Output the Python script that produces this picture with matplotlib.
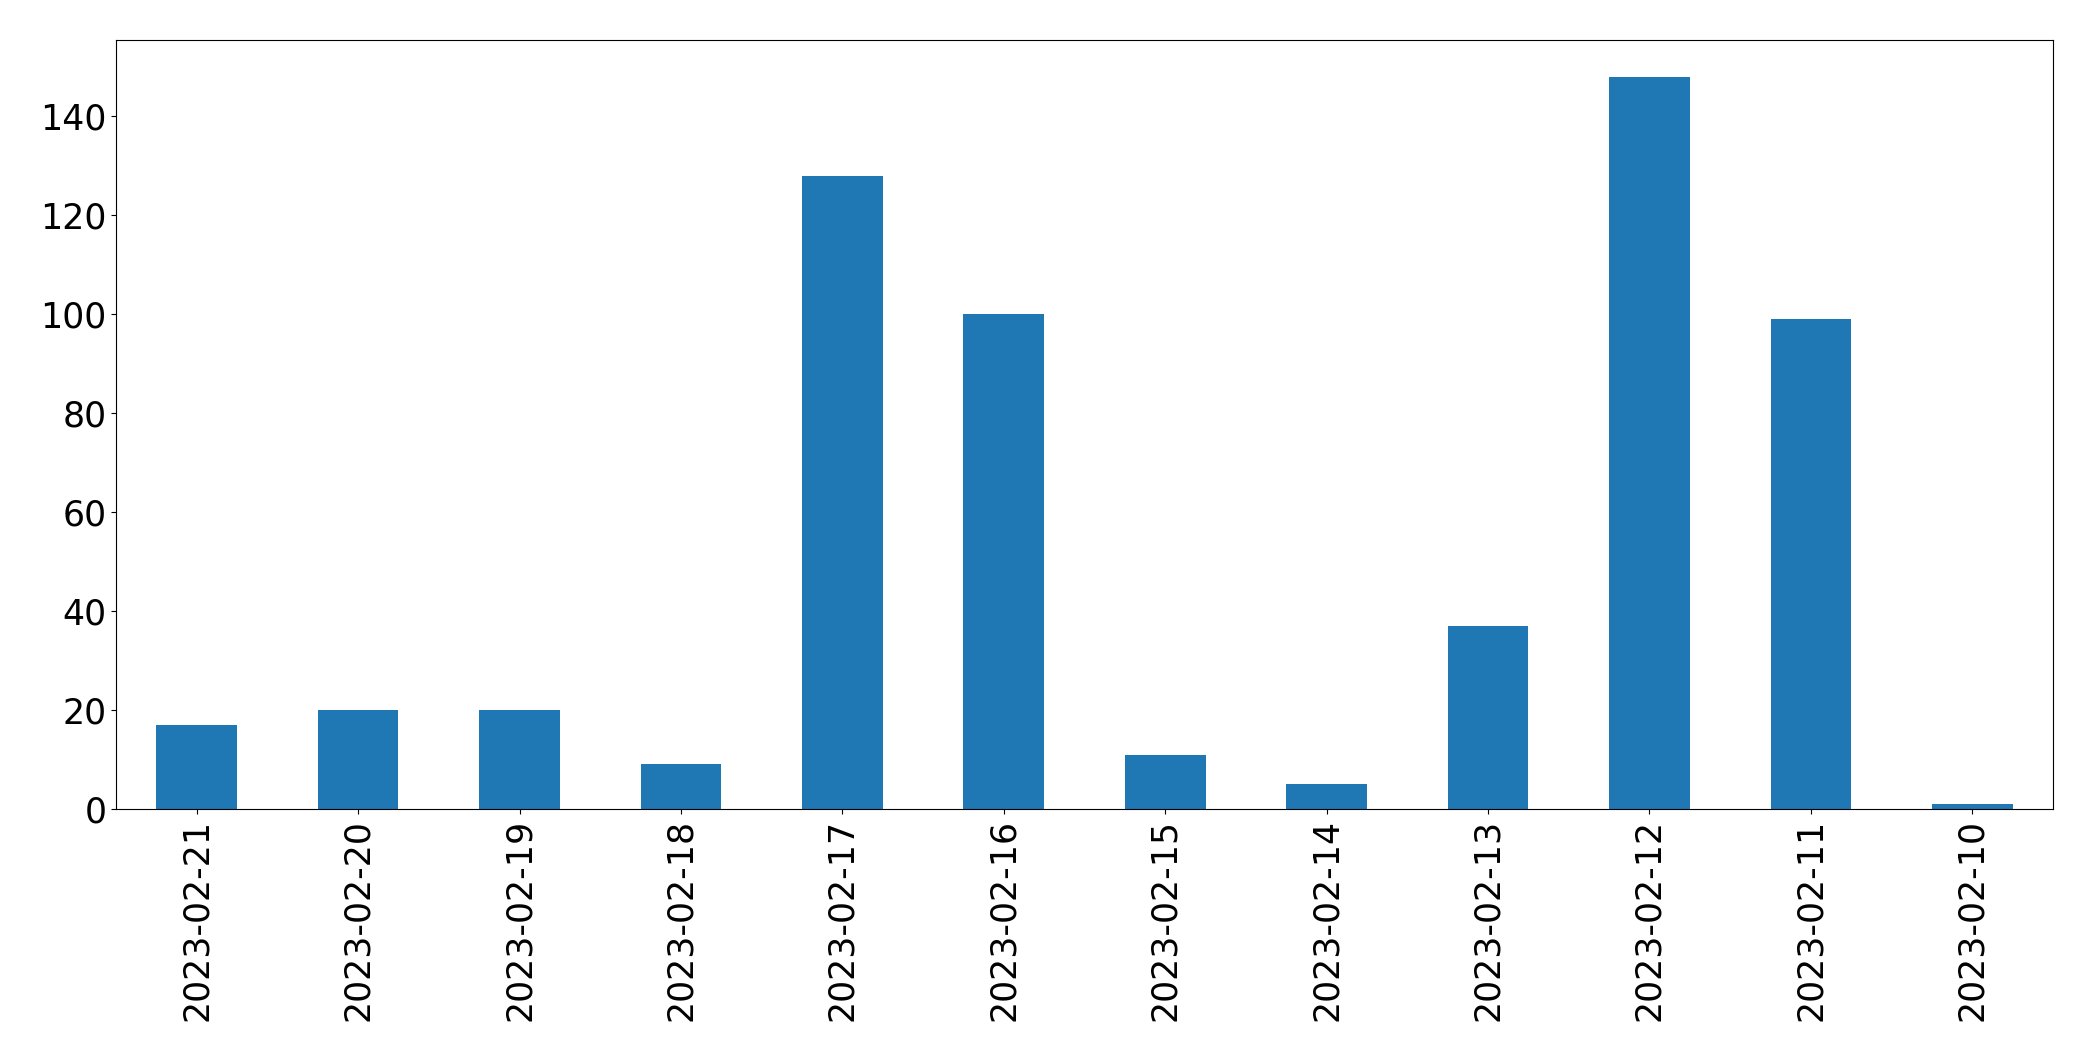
import matplotlib
matplotlib.use("Agg")
import matplotlib.pyplot as plt
import pandas as pd

dates = ["2023-02-21", "2023-02-20", "2023-02-19", "2023-02-18", "2023-02-17", "2023-02-16",
         "2023-02-15", "2023-02-14", "2023-02-13", "2023-02-12", "2023-02-11", "2023-02-10"]
counts = [17, 20, 20, 9, 128, 100, 11, 5, 37, 148, 99, 1]

s = pd.Series(counts, index=dates)

fig = plt.figure(figsize=(20.93, 10.61), dpi=100)
ax = fig.add_axes([116/2093, 1-809/1061, (2053-116)/2093, (809-40)/1061])
s.plot(kind="bar", ax=ax, color="#1f77b4", width=0.5)
ax.tick_params(axis="both", labelsize=25)
fig.savefig("out.png", dpi=100)
